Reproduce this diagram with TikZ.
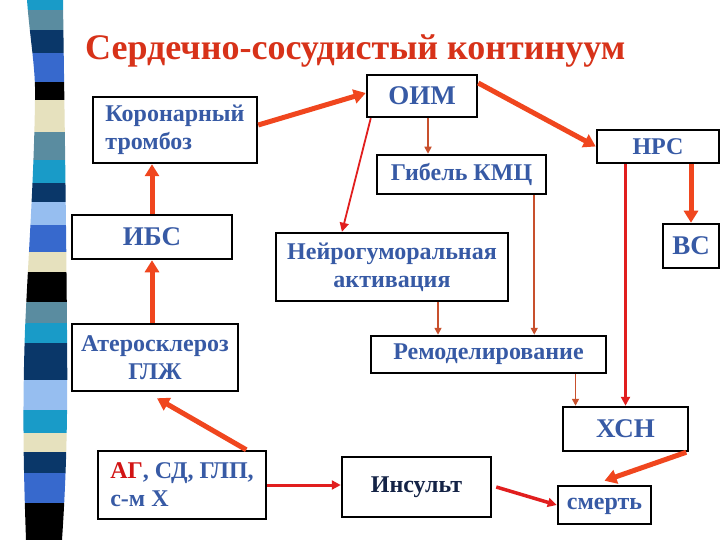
\documentclass[tikz,border=0pt]{standalone}
\usepackage{fontspec}
\setmainfont{Liberation Serif}
\usetikzlibrary{arrows.meta}

\definecolor{stripeteal}{RGB}{25,155,200}
\definecolor{stripeslate}{RGB}{90,140,160}
\definecolor{stripenavy}{RGB}{10,55,105}
\definecolor{striperoyal}{RGB}{55,105,205}
\definecolor{stripecream}{RGB}{230,225,190}
\definecolor{stripesky}{RGB}{150,190,240}
\definecolor{titlered}{RGB}{215,50,25}
\definecolor{txtblue}{RGB}{55,90,165}
\definecolor{txtnavy}{RGB}{20,35,70}
\definecolor{agred}{RGB}{210,20,20}
\definecolor{arrorange}{RGB}{240,70,30}
\definecolor{arrbrown}{RGB}{200,80,45}
\definecolor{arrred}{RGB}{225,30,30}

\begin{document}
\begin{tikzpicture}[
  x=1pt, y=-1pt,
  box/.style={draw=black, line width=2.5pt, fill=white, inner sep=3pt,
    text=txtblue, align=center, font=\bfseries\fontsize{24}{28}\selectfont},
  bigbox/.style={box, font=\bfseries\fontsize{27}{30}\selectfont},
  fat/.style={draw=arrorange, line width=5pt, -{Triangle[length=12pt,width=14pt]}},
  brownarrow/.style={draw=arrbrown, line width=1.6pt, -{Triangle[length=7pt,width=7pt]}},
  redarrow/.style={draw=arrred, line width=2.5pt, -{Triangle[length=9pt,width=9pt]}},
]

\useasboundingbox (0,0) rectangle (720,540);
\fill[white] (0,0) rectangle (720,540);

% striped band on the left edge
\begin{scope}
  \clip (27,0) .. controls (30,40) and (36,70) .. (35,100)
    .. controls (34,180) and (28,260) .. (25,330)
    .. controls (22,420) and (24,480) .. (26,540)
    -- (62,540) .. controls (66,480) and (68,420) .. (67,330)
    .. controls (66,200) and (64,80) .. (63,0) -- cycle;
  \foreach \ya/\yb/\col in {0/10/stripeteal, 10/30/stripeslate, 30/53/stripenavy,
      53/82/striperoyal, 82/100/black, 100/132/stripecream, 132/160/stripeslate,
      160/183/stripeteal, 183/202/stripenavy, 202/225/stripesky, 225/252/striperoyal,
      252/272/stripecream, 272/302/black, 302/323/stripeslate, 323/343/stripeteal,
      343/380/stripenavy, 380/410/stripesky, 410/433/stripeteal, 433/452/stripecream,
      452/473/stripenavy, 473/503/striperoyal, 503/540/black}
    \fill[\col] (0,\ya) rectangle (80,\yb);
\end{scope}

% title
\node[anchor=base west, inner sep=0pt, text=titlered, font=\bfseries\fontsize{36}{40}\selectfont]
  (title) at (85,60) {Сердечно-сосудистый континуум};

% boxes
\node[box, align=left, minimum width=164pt, minimum height=66pt] (koron) at (175,130) {Коронарный\\тромбоз};
\node[bigbox, minimum width=110pt, minimum height=42pt] (oim) at (422,96) {ОИМ};
\node[box, minimum width=122pt, minimum height=33pt] (nrs) at (658,146.5) {НРС};
\node[box, minimum width=169pt, minimum height=39pt] (gibel) at (461.5,174.5) {Гибель КМЦ};
\node[bigbox, minimum width=160pt, minimum height=44pt] (ibs) at (152,237) {ИБС};
\node[box, minimum width=232pt, minimum height=68pt] (neuro) at (392,267) {Нейрогуморальная\\активация};
\node[bigbox, minimum width=56pt, minimum height=44pt] (vs) at (691,246) {ВС};
\node[box, minimum width=166pt, minimum height=67pt] (ather) at (155,357.5) {Атеросклероз\\ГЛЖ};
\node[box, minimum width=235pt, minimum height=37pt] (remod) at (488.5,354.5) {Ремоделирование};
\node[bigbox, minimum width=125pt, minimum height=44pt] (xsn) at (625.5,429) {ХСН};
\node[box, align=left, minimum width=168pt, minimum height=68pt] (ag) at (182,485) {{\color{agred}АГ}, СД, ГЛП,\\с-м Х};
\node[box, text=txtnavy, minimum width=149pt, minimum height=60pt] (insult) at (416.5,487) {Инсульт};
\node[box, minimum width=93pt, minimum height=38pt, text depth=2pt] (death) at (604.5,505) {смерть};

% helper points for the thin arrows
\coordinate (oimx) at ([xshift=6pt]oim.south);
\coordinate (gibelx) at ([xshift=-13pt]gibel.south east);
\coordinate (neurox) at ([xshift=46pt]neuro.south);
\coordinate (remodx) at ([xshift=-50pt]xsn.north);

% left chain
\draw[fat] (ibs.south |- ather.north) -- (ibs.south);
\draw[fat] (ibs.north) -- (ibs.north |- koron.south);
\draw[fat] ([xshift=-21pt]ag.north east) -- ([xshift=2pt,yshift=-6pt]ather.south);

% top
\draw[fat] ([yshift=5pt]koron.east) -- ([yshift=3pt]oim.west);
\draw[fat] ([yshift=13pt]oim.east) -- (nrs.west);
\draw[brownarrow] (oimx) -- (oimx |- gibel.north);
\draw[redarrow, line width=1.8pt] ([xshift=5pt]oim.south west) -- ([xshift=-50pt]neuro.north);

% middle
\draw[brownarrow] (gibelx) -- (gibelx |- remod.north);
\draw[brownarrow] (neurox) -- (neurox |- remod.north);
\draw[fat] (vs.north |- nrs.south) -- (vs.north);
\draw[redarrow] (xsn.north |- nrs.south) -- (xsn.north);
\draw[brownarrow] (remodx |- remod.south) -- (remodx);

% bottom
\draw[fat] ([xshift=-3pt]xsn.south east) -- ([yshift=4pt]death.north);
\draw[redarrow, line width=3.5pt] ([xshift=4pt]insult.east) -- (death.west);
\draw[redarrow, line width=3pt] (ag.east) -- (ag.east -| insult.west);

\end{tikzpicture}
\end{document}
